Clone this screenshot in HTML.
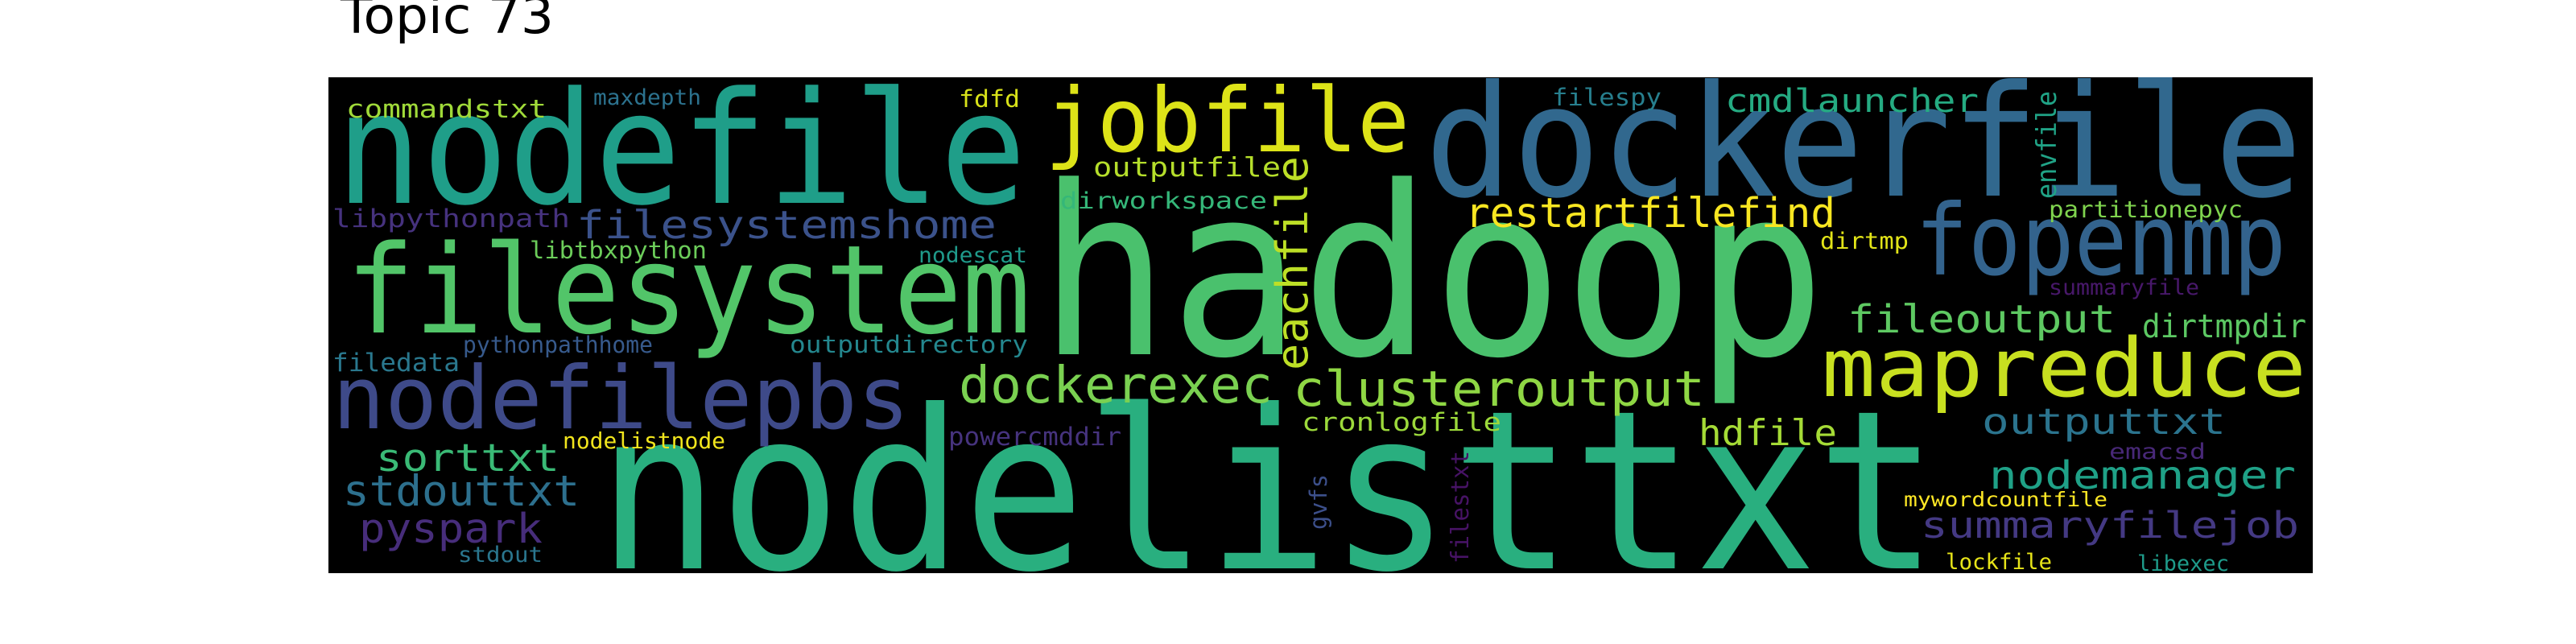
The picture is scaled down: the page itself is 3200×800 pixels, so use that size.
<!DOCTYPE html>
<html>
<head>
<meta charset="utf-8">
<style>
  html, body { margin: 0; padding: 0; background: #ffffff; }
  body { width: 3200px; height: 800px; overflow: hidden; }
  svg { display: block; }
</style>
</head>
<body>
<svg id="chart" width="3200" height="800" viewBox="0 0 3200 800" xmlns="http://www.w3.org/2000/svg">
  <text x="423" y="41" font-family="DejaVu Sans, Liberation Sans, sans-serif" font-size="62" textLength="265" lengthAdjust="spacingAndGlyphs" fill="#000">Topic 73</text>
  <rect x="408" y="96" width="2465" height="616" fill="#000"/>
  <g id="words"></g>
</svg>
<script>
// word cloud data: terms and their relative sizes (font px)
const words = ["nodelisttxt","hadoop","dockerfile","nodefile","filesystem","fopenmp","jobfile","nodefilepbs","mapreduce","dockerexec","clusteroutput","eachfile","stdouttxt","pyspark","filesystemshome","restartfilefind","fileoutput","nodemanager","sorttxt","summaryfilejob","outputtxt","hdfile","cmdlauncher","dirtmpdir","envfile","commandstxt","libpythonpath","outputfile","filedata","powercmddir","cronlogfile","filestxt","libtbxpython","fdfd","outputdirectory","dirworkspace","gvfs","pythonpathhome","filespy","dirtmp","partitionepyc","nodelistnode","maxdepth","nodescat","summaryfile","stdout","emacsd","lockfile","libexec","mywordcountfile"];
const sizes = [262,278,183,184,145,116,105,103,96,60,58,52,50,48,46,48,46,46,45,43,42,42,38,38,32,30,30,31,30,30,30,29,28,28,28,27,28,27,28,27,27,26,25,25,25,25,25,25,25,24];
const colors = ["#29af7f","#4ac16d","#31688e","#1f9e89","#52c569","#33638d","#dde318","#3e4a89","#c8e020","#7ad151","#8fd744","#bddf26","#2d708e","#472d7b","#3b528b","#f8e621","#5ec962","#1fa187","#3aba76","#443983","#2b748e","#a5db36","#25ab82","#5cc863","#20a386","#a0da39","#46327e","#b5de2b","#2a788e","#46337e","#9cd93b","#471365","#6ccd5a","#d8e219","#24878e","#35b779","#3c4f8a","#375a8c","#277f8e","#e2e418","#7fd34e","#f1e51d","#2c728e","#1f9a8a","#48186a","#2a768e","#482878","#e7e419","#1e9b8a","#fde725"];
// layout: anchor x, baseline y, rendered span length, rotation
const posX = [742,1290,1770,417,430,2379,1298,413,2263,1191,1606,1624,426,446,716,1820,2295,2471,467,2386,2462,2110,2143,2661,2554,430,413,1358,413,1178,1617,1824,658,1191,981,1317,1648,575,1928,2261,2545,699,737,1141,2545,569,2620,2417,2655,2365];
const posY = [706,440,243,252,413,341,188,532,492,500,504,460,628,674,296,282,413,607,585,668,539,553,139,419,247,146,282,219,461,553,535,700,321,133,438,259,658,438,131,309,270,557,130,326,366,698,570,707,709,629];
const spans = [1666,978,1090,858,850,461,453,717,602,390,512,266,294,228,522,460,333,381,228,470,303,172,315,204,134,249,295,233,158,215,248,140,220,76,296,257,69,236,136,110,241,202,134,135,187,105,120,132,114,253];
const rotations = [0,0,0,0,0,0,0,0,0,0,0,-90,0,0,0,0,0,0,0,0,0,0,0,0,-90,0,0,0,0,0,0,-90,0,0,0,0,-90,0,0,0,0,0,0,0,0,0,0,0,0,0];

const GLYPH_SCALE = 1.05;
const NS = "http://www.w3.org/2000/svg";
const g = document.getElementById("words");
for (let i = 0; i < words.length; i++) {
  const t = document.createElementNS(NS, "text");
  
  
  t.setAttribute("x", posX[i]);
  t.setAttribute("y", posY[i]);
  t.setAttribute("font-family", "DejaVu Sans Mono, Liberation Mono, monospace");
  t.setAttribute("font-size", sizes[i] * GLYPH_SCALE);
  t.setAttribute("fill", colors[i]);
  t.setAttribute("textLength", spans[i]);
  t.setAttribute("lengthAdjust", "spacingAndGlyphs");
  if (rotations[i] !== 0) {
    t.setAttribute("transform", "rotate(" + rotations[i] + " " + posX[i] + " " + posY[i] + ")");
  }
  t.textContent = words[i];
  g.appendChild(t);
}
</script>
</body>
</html>
